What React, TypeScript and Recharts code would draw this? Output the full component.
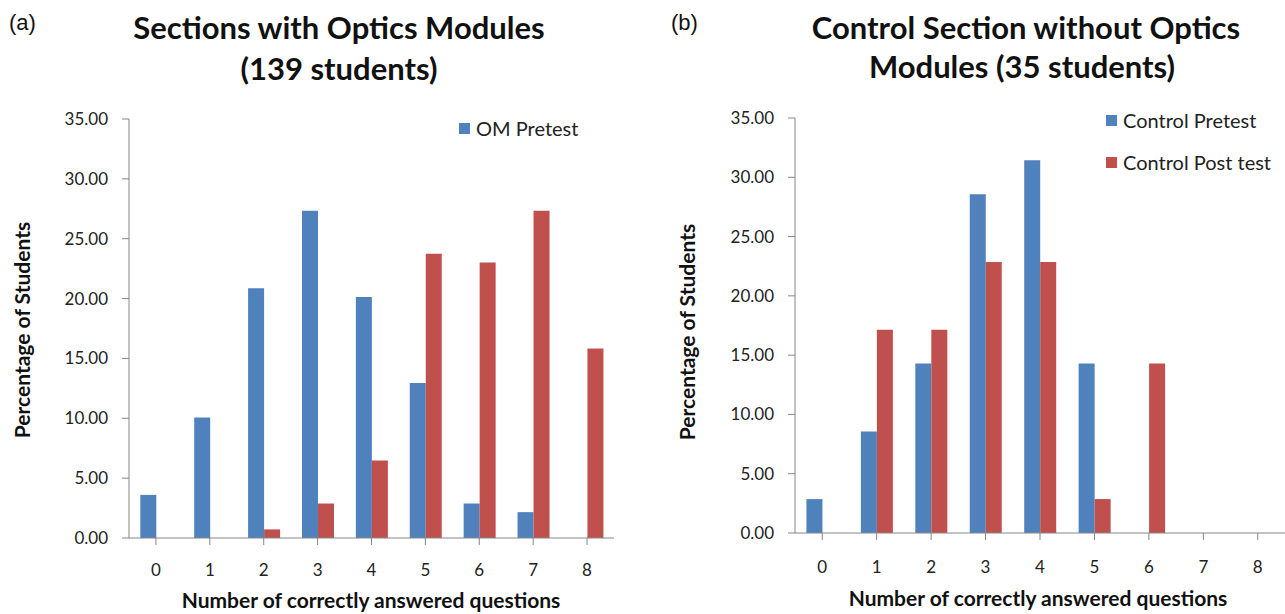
import React from 'react';
import { BarChart, Bar, XAxis, YAxis } from 'recharts';

const categories = ['0', '1', '2', '3', '4', '5', '6', '7', '8'];
const omPretest = [3.6, 10.07, 20.86, 27.34, 20.14, 12.95, 2.88, 2.16, 0];
const omPosttest = [0, 0, 0.72, 2.88, 6.47, 23.74, 23.02, 27.34, 15.83];
const controlPretest = [2.86, 8.57, 14.29, 28.57, 31.43, 14.29, 0, 0, 0];
const controlPosttest = [0, 17.14, 17.14, 22.86, 22.86, 2.86, 14.29, 0, 0];
const yTicks = [0, 5, 10, 15, 20, 25, 30, 35];
const omLegend = ['OM Pretest'];
const controlLegend = ['Control Pretest', 'Control Post test'];

const BLUE = '#4F81BD';
const RED = '#C0504D';
const AXIS = '#868686';
const FONT = 'Lato, "Open Sans", sans-serif';
const legendColors = [BLUE, RED];

const omData = categories.map((c, i) => ({ cat: c, pre: omPretest[i], post: omPosttest[i] }));
const ctlData = categories.map((c, i) => ({ cat: c, pre: controlPretest[i], post: controlPosttest[i] }));

const tickStyle = { fill: '#222', fontSize: 17, fontFamily: FONT };

const abs = (style: React.CSSProperties): React.CSSProperties => ({ position: 'absolute', whiteSpace: 'nowrap', ...style });

const LegendBox = ({ names, left, top }: { names: string[]; left: number; top: number }) => (
  <div style={abs({ left, top, fontFamily: FONT, fontSize: 20, color: '#222' })}>
    {names.map((n, i) => (
      <div key={n} style={{ display: 'flex', alignItems: 'center', height: 42 }}>
        <span style={{ display: 'inline-block', width: 11, height: 11, background: legendColors[i], marginRight: 6 }} />
        <span>{n}</span>
      </div>
    ))}
  </div>
);

export default function App() {
  return (
    <div style={{ position: 'absolute', left: 0, top: 0, width: 1285, height: 614, background: '#fff', overflow: 'hidden' }}>
      {/* Chart (a) */}
      <div style={abs({ left: 0, top: 0 })}>
        <BarChart
          width={640}
          height={614}
          data={omData}
          margin={{ top: 119, right: 26, bottom: 46, left: 0 }}
          barCategoryGap="21%"
          barGap={0}
        >
          <XAxis
            dataKey="cat"
            stroke={AXIS}
            tickLine={{ stroke: AXIS }}
            tickSize={7}
            tickMargin={19}
            tick={tickStyle}
            height={30}
            interval={0}
          />
          <YAxis
            domain={[0, 35]}
            ticks={yTicks}
            width={129}
            stroke={AXIS}
            tickLine={{ stroke: AXIS }}
            tickSize={7}
            tickMargin={14}
            tick={tickStyle}
            tickFormatter={(v: number) => v.toFixed(2)}
            interval={0}
          />
          <Bar dataKey="pre" name="OM Pretest" fill={BLUE} isAnimationActive={false} />
          <Bar dataKey="post" name="OM Post test" fill={RED} isAnimationActive={false} />
        </BarChart>
      </div>

      {/* Chart (b) */}
      <div style={abs({ left: 640, top: 0 })}>
        <BarChart
          width={645}
          height={614}
          data={ctlData}
          margin={{ top: 118, right: 0, bottom: 51, left: 0 }}
          barCategoryGap="21%"
          barGap={0}
        >
          <XAxis
            dataKey="cat"
            stroke={AXIS}
            tickLine={{ stroke: AXIS }}
            tickSize={7}
            tickMargin={21}
            tick={tickStyle}
            height={30}
            interval={0}
          />
          <YAxis
            domain={[0, 35]}
            ticks={yTicks}
            width={155}
            stroke={AXIS}
            tickLine={{ stroke: AXIS }}
            tickSize={7}
            tickMargin={14}
            tick={tickStyle}
            tickFormatter={(v: number) => v.toFixed(2)}
            interval={0}
          />
          <Bar dataKey="pre" name="Control Pretest" fill={BLUE} isAnimationActive={false} />
          <Bar dataKey="post" name="Control Post test" fill={RED} isAnimationActive={false} />
        </BarChart>
      </div>

      <LegendBox names={omLegend} left={459} top={107} />
      <LegendBox names={controlLegend} left={1106} top={99} />

      {/* Panel letters */}
      <div style={abs({ left: 9, top: 10, fontFamily: '"Liberation Sans", Arial, sans-serif', fontSize: 22, color: '#111' })}>(a)</div>
      <div style={abs({ left: 671, top: 10, fontFamily: '"Liberation Sans", Arial, sans-serif', fontSize: 22, color: '#111' })}>(b)</div>

      {/* Titles */}
      <div style={abs({ left: 339, top: 27, transform: 'translate(-50%,-50%)', fontFamily: FONT, fontWeight: 700, fontSize: 31, color: '#111' })}>
        Sections with Optics Modules
      </div>
      <div style={abs({ left: 339, top: 68, transform: 'translate(-50%,-50%)', fontFamily: FONT, fontWeight: 700, fontSize: 31, color: '#111' })}>
        (139 students)
      </div>
      <div style={abs({ left: 1026, top: 27, transform: 'translate(-50%,-50%)', fontFamily: FONT, fontWeight: 700, fontSize: 31, color: '#111' })}>
        Control Section without Optics
      </div>
      <div style={abs({ left: 1022, top: 66, transform: 'translate(-50%,-50%)', fontFamily: FONT, fontWeight: 700, fontSize: 31, color: '#111' })}>
        Modules (35 students)
      </div>

      {/* Axis titles */}
      <div style={abs({ left: 21, top: 330, transform: 'translate(-50%,-50%) rotate(-90deg)', fontFamily: FONT, fontWeight: 700, fontSize: 21, color: '#111' })}>
        Percentage of Students
      </div>
      <div style={abs({ left: 686, top: 332, transform: 'translate(-50%,-50%) rotate(-90deg)', fontFamily: FONT, fontWeight: 700, fontSize: 21, color: '#111' })}>
        Percentage of Students
      </div>
      <div style={abs({ left: 371, top: 600, transform: 'translate(-50%,-50%)', fontFamily: FONT, fontWeight: 700, fontSize: 21, lineHeight: '24px', color: '#111' })}>
        Number of correctly answered questions
      </div>
      <div style={abs({ left: 1038, top: 598, transform: 'translate(-50%,-50%)', fontFamily: FONT, fontWeight: 700, fontSize: 21, lineHeight: '24px', color: '#111' })}>
        Number of correctly answered questions
      </div>
    </div>
  );
}
